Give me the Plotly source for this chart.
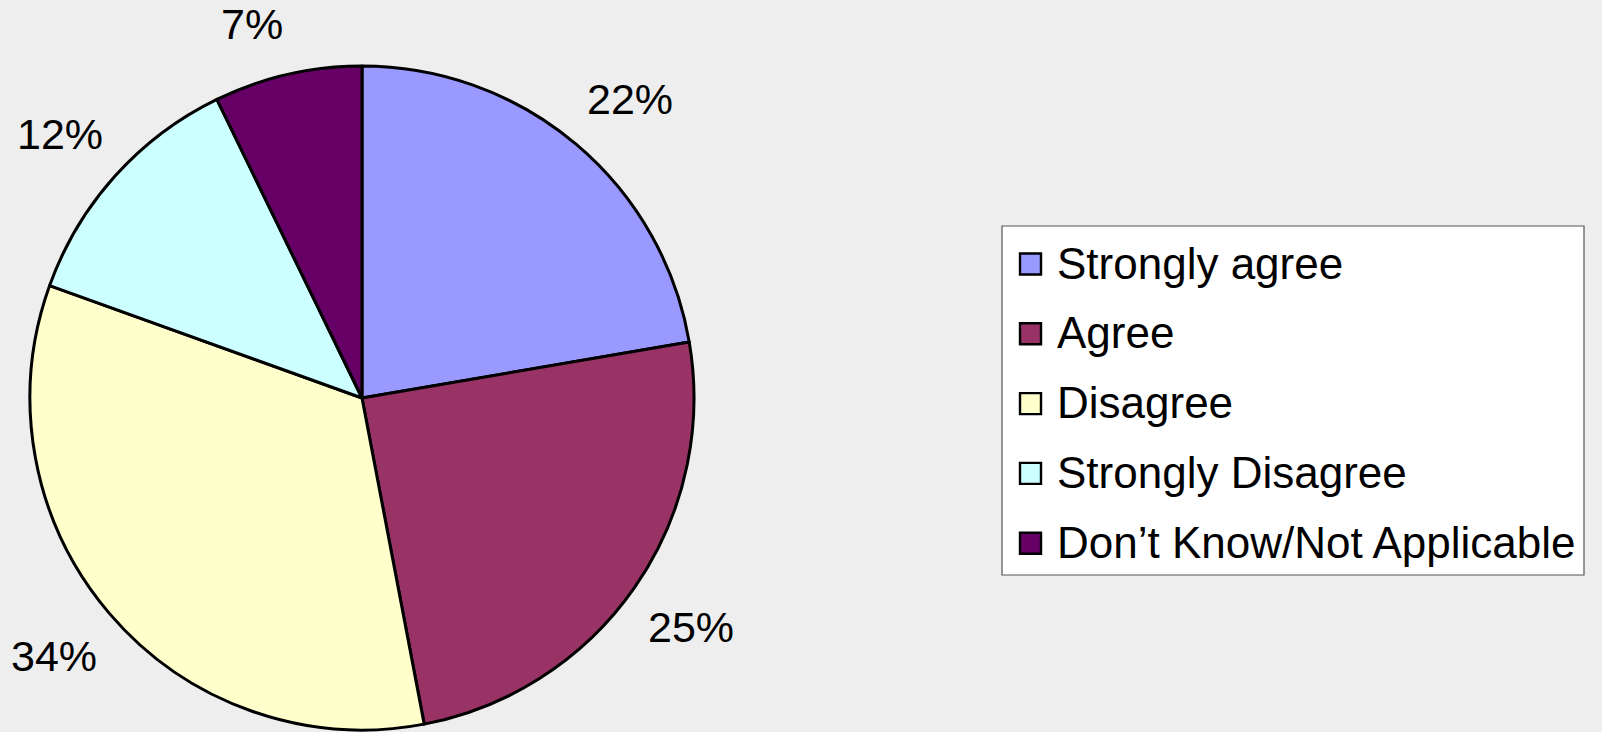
import math
import plotly.graph_objects as go

categories = ["Strongly agree", "Agree", "Disagree", "Strongly Disagree", "Don\u2019t Know/Not Applicable"]
values = [22.3, 24.7, 33.5, 12.3, 7.2]
colors = ["#9999FF", "#993366", "#FFFFCC", "#CCFFFF", "#660066"]

W, H = 1602, 732
BG = "#EEEEEE"

# pie geometry (pixels)
cx, cy, R = 362, 398, 332
cy_up = H - cy

fig = go.Figure()
fig.add_trace(go.Pie(
    labels=categories,
    values=values,
    sort=False,
    direction="clockwise",
    rotation=0,
    marker=dict(colors=colors, line=dict(color="black", width=3)),
    textinfo="none",
    hoverinfo="label+percent",
    showlegend=False,
    domain=dict(x=[(cx - R) / W, (cx + R) / W], y=[(cy_up - R) / H, (cy_up + R) / H]),
))

font_family = "Liberation Sans, Arial, sans-serif"
annotations = []
shapes = []

# percentage labels placed just outside each slice's mid-angle
total = sum(values)
cum = 0
gap_x, gap_y = 15, 26
for v in values:
    mid = (cum + v / 2) / total
    cum += v
    theta = 2 * math.pi * mid
    s, c = math.sin(theta), math.cos(theta)
    x = cx + (R + gap_x) * s
    y = cy_up + (R + gap_y) * c
    annotations.append(dict(
        x=x / W, y=y / H, xref="paper", yref="paper",
        text=f"{100 * v / total:.0f}%", showarrow=False,
        xanchor="left" if s > 0 else "right",
        yanchor="bottom" if c > 0 else "top",
        borderpad=0,
        font=dict(family=font_family, size=43, color="black"),
    ))

# custom legend
lx0, ly0, lx1, ly1 = 1002, 226, 1584, 575
shapes.append(dict(type="rect", xref="paper", yref="paper",
                   x0=lx0 / W, x1=lx1 / W, y0=(H - ly1) / H, y1=(H - ly0) / H,
                   fillcolor="white", line=dict(color="#555555", width=1.2), layer="below"))
row0, step = 264, 69.8
sq = 21
for i, (c, col) in enumerate(zip(categories, colors)):
    yc = row0 + i * step
    shapes.append(dict(type="rect", xref="paper", yref="paper",
                       x0=1020 / W, x1=(1020 + sq) / W,
                       y0=(H - yc - sq / 2) / H, y1=(H - yc + sq / 2) / H,
                       fillcolor=col, line=dict(color="black", width=2.4)))
    annotations.append(dict(
        x=1055 / W, y=(H - yc + 1) / H, xref="paper", yref="paper",
        text=c, showarrow=False, xanchor="left", yanchor="middle",
        font=dict(family=font_family, size=44, color="black"),
    ))

fig.update_layout(
    width=W, height=H,
    margin=dict(l=0, r=0, t=0, b=0),
    paper_bgcolor=BG, plot_bgcolor=BG,
    annotations=annotations, shapes=shapes,
    showlegend=False,
)

fig.write_html("out.html")
